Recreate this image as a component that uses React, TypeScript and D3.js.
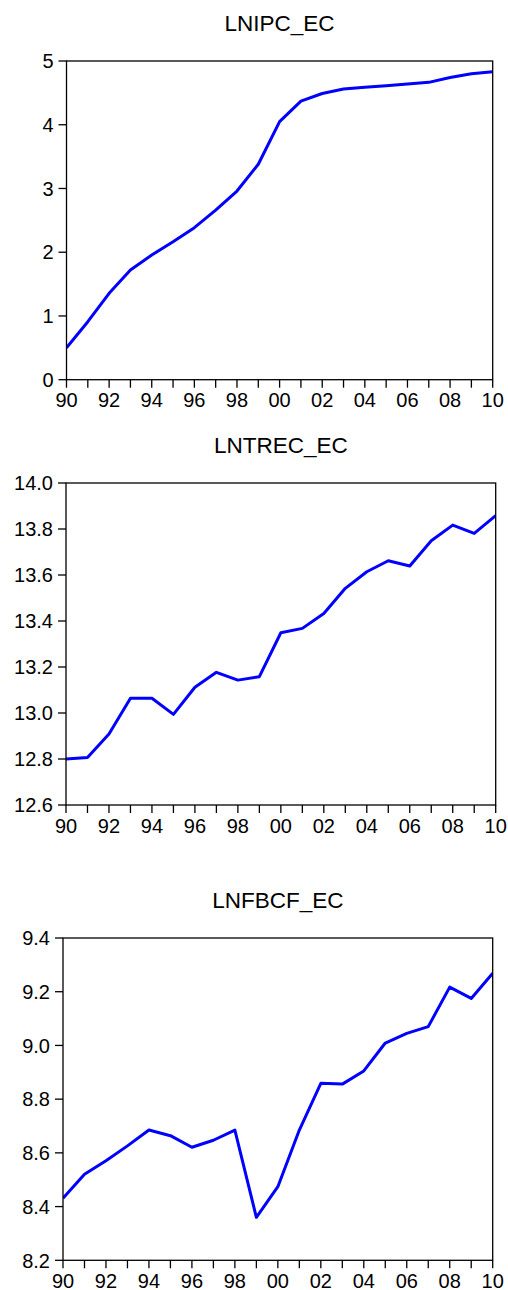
import React from "react";
import * as d3 from "d3";

const years = d3.range(1990, 2011);
const xTickLabels = ["90", "92", "94", "96", "98", "00", "02", "04", "06", "08", "10"];

const lnipc = [0.50, 0.91, 1.355, 1.72, 1.956, 2.165, 2.385, 2.66, 2.96, 3.38, 4.05, 4.37, 4.49, 4.56, 4.587, 4.61, 4.64, 4.665, 4.74, 4.80, 4.83];
const lntrec = [12.80, 12.807, 12.909, 13.064, 13.064, 12.994, 13.112, 13.177, 13.143, 13.158, 13.349, 13.368, 13.433, 13.542, 13.614, 13.662, 13.639, 13.749, 13.817, 13.781, 13.858];
const lnfbcf = [8.431, 8.520, 8.571, 8.626, 8.685, 8.664, 8.621, 8.647, 8.685, 8.360, 8.474, 8.685, 8.859, 8.856, 8.905, 9.009, 9.045, 9.070, 9.217, 9.175, 9.269];

const ipcTicks = [0, 1, 2, 3, 4, 5];
const trecTicks = [12.6, 12.8, 13.0, 13.2, 13.4, 13.6, 13.8, 14.0];
const fbcfTicks = [8.2, 8.4, 8.6, 8.8, 9.0, 9.2, 9.4];

const titles = ["LNIPC_EC", "LNTREC_EC", "LNFBCF_EC"];

const layouts = [
  { left: 66.5, right: 492.7, top: 61, bottom: 379.7, titleY: 30.7, decimals: 0 },
  { left: 66, right: 495.7, top: 483, bottom: 805, titleY: 453.3, decimals: 1 },
  { left: 63, right: 492.7, top: 938, bottom: 1260.3, titleY: 908.3, decimals: 1 },
];

const panels = [
  { title: titles[0], values: lnipc, ticks: ipcTicks },
  { title: titles[1], values: lntrec, ticks: trecTicks },
  { title: titles[2], values: lnfbcf, ticks: fbcfTicks },
];

const FONT = "'Liberation Sans', Arial, sans-serif";

function Panel({ idx }: { idx: number }) {
  const p = panels[idx];
  const L = layouts[idx];
  const x = d3.scaleLinear().domain([1990, 2010]).range([L.left, L.right]);
  const y = d3
    .scaleLinear()
    .domain([p.ticks[0], p.ticks[p.ticks.length - 1]])
    .range([L.bottom, L.top]);
  const line = d3
    .line<number>()
    .x((_, i) => x(years[i]))
    .y((d) => y(d));
  const fmt = d3.format(`.${L.decimals}f`);
  return (
    <g>
      <text
        x={(L.left + L.right) / 2}
        y={L.titleY}
        textAnchor="middle"
        fontFamily={FONT}
        fontSize={22.5}
        fill="#000"
      >
        {p.title}
      </text>
      <defs>
        <clipPath id={`clip${idx}`}>
          <rect x={L.left} y={L.top - 2} width={L.right - L.left} height={L.bottom - L.top + 4} />
        </clipPath>
      </defs>
      <path
        d={line(p.values) || ""}
        fill="none"
        stroke="#0000FF"
        strokeWidth={3}
        strokeLinejoin="round"
        clipPath={`url(#clip${idx})`}
      />
      <rect
        x={L.left}
        y={L.top}
        width={L.right - L.left}
        height={L.bottom - L.top}
        fill="none"
        stroke="#000"
        strokeWidth={1.3}
      />
      {p.ticks.map((t) => (
        <g key={`y${t}`}>
          <line x1={L.left - 8} x2={L.left} y1={y(t)} y2={y(t)} stroke="#000" strokeWidth={1.3} />
          <text
            x={L.left - 13}
            y={y(t)}
            dy="0.36em"
            textAnchor="end"
            fontFamily={FONT}
            fontSize={20}
            fill="#000"
          >
            {fmt(t)}
          </text>
        </g>
      ))}
      {years.map((yr) => (
        <line
          key={`xt${yr}`}
          x1={x(yr)}
          x2={x(yr)}
          y1={L.bottom}
          y2={L.bottom + 8}
          stroke="#000"
          strokeWidth={1.3}
        />
      ))}
      {xTickLabels.map((lab, i) => (
        <text
          key={`xl${lab}`}
          x={x(1990 + i * 2)}
          y={L.bottom + 27.5}
          textAnchor="middle"
          fontFamily={FONT}
          fontSize={20}
          fill="#000"
        >
          {lab}
        </text>
      ))}
    </g>
  );
}

export default function App() {
  return (
    <svg
      width={508}
      height={1290}
      style={{ position: "absolute", left: 0, top: 0, background: "#fff" }}
    >
      <rect width={508} height={1290} fill="#fff" />
      {panels.map((_, i) => (
        <Panel key={i} idx={i} />
      ))}
    </svg>
  );
}
